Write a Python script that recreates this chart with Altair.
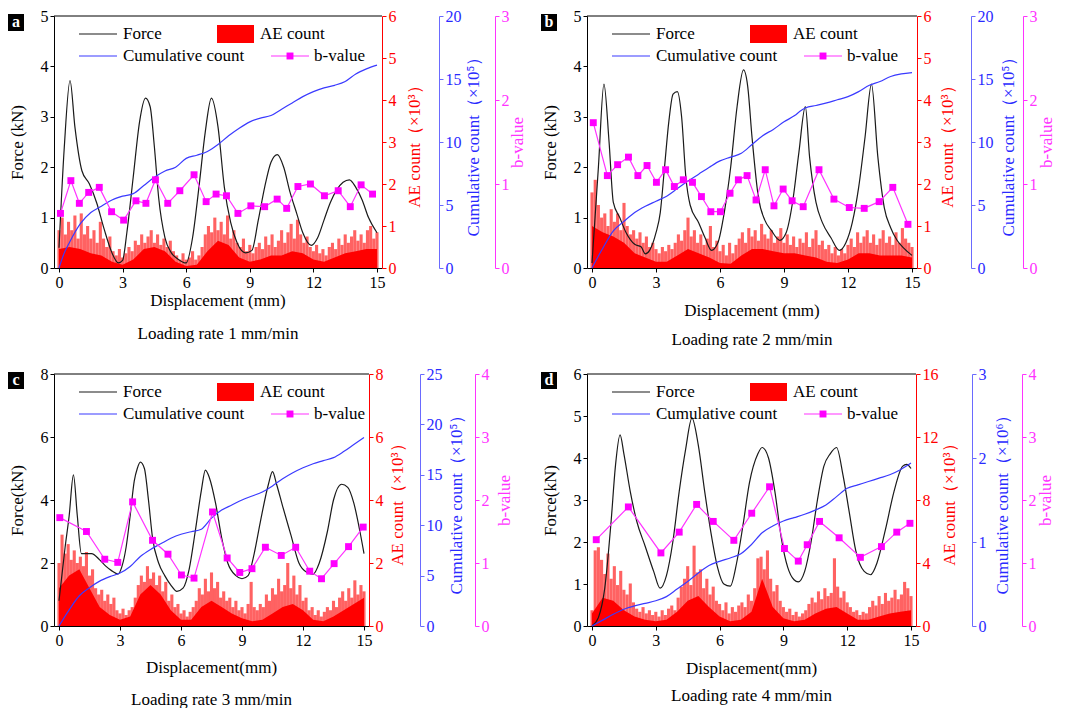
import altair as alt
import pandas as pd

FONT = "Liberation Serif"
HEIGHT = 252
RED = "#ff0000"
BLUE = "#3a3aff"
MAG = "#ff33ff"

# displacement grids (mm) for AE count bars and for the dense AE core
AE_X = [round(i * 0.15, 2) for i in range(101)]
CORE_X = [i * 0.5 for i in range(31)]

# ---------------- panel a (1 mm/min) ----------------
force_x_a = [0, 0.25, 0.52, 0.75, 1.08, 1.43, 1.78, 2.13, 2.48, 2.8,
             3.0, 3.2, 3.5, 3.8, 4.08, 4.3, 4.5, 4.7, 5.0, 5.3,
             5.6, 6.0, 6.3, 6.6, 6.9, 7.19, 7.5, 7.8, 8.1, 8.4,
             8.8, 9.1, 9.4, 9.7, 10.0, 10.3, 10.6, 10.9, 11.2, 11.5,
             11.9, 12.2, 12.5, 12.8, 13.1, 13.4, 13.7, 14.0, 14.3, 14.6, 15.0]
force_y_a = [0.4, 2.4, 3.72, 2.8, 1.93, 1.67, 1.29, 0.77, 0.32, 0.1,
             0.15, 0.7, 1.8, 2.9, 3.37, 3.2, 2.4, 1.4, 0.6, 0.3,
             0.18, 0.1, 0.6, 1.6, 2.7, 3.37, 2.8, 1.6, 0.9, 0.5,
             0.3, 0.35, 0.95, 1.6, 2.1, 2.25, 2.0, 1.5, 1.1, 0.7,
             0.45, 0.6, 0.95, 1.3, 1.55, 1.7, 1.75, 1.6, 1.35, 1.0, 0.7]
cum_x_a = [0, 0.25, 0.5, 1.0, 1.5, 2.0, 2.5, 3.0, 3.5, 4.0, 4.5, 5.0, 5.5, 6.0, 6.5, 7.0,
           7.5, 8.0, 8.5, 9.0, 9.5, 10.0, 10.5, 11.0, 11.5, 12.0, 12.5, 13.0, 13.5, 14.0, 14.5, 15.0]
cum_y_a = [0, 1.2, 2.05, 3.5, 4.4, 4.9, 5.4, 5.7, 5.9, 6.55, 7.2, 7.7, 8.0, 8.7, 8.95, 9.25,
           9.8, 10.5, 11.1, 11.6, 11.9, 12.1, 12.6, 13.1, 13.6, 14.0, 14.3, 14.5, 14.8, 15.4, 15.8, 16.1]
b_x_a = [0.07, 0.56, 0.96, 1.4, 1.9, 2.48, 3.05, 3.63, 4.1, 4.55, 5.13, 5.7, 6.37, 6.94,
         7.41, 7.9, 8.44, 9.05, 9.7, 10.29, 10.74, 11.27, 11.86, 12.52, 13.17, 13.74, 14.25, 14.79]
b_y_a = [0.65, 1.04, 0.77, 0.9, 0.96, 0.67, 0.57, 0.8, 0.77, 1.05, 0.77, 0.92, 1.11, 0.79,
         0.88, 0.86, 0.65, 0.74, 0.73, 0.82, 0.71, 0.97, 1.0, 0.86, 0.92, 0.73, 0.99, 0.88]
ae_peak_a = [0.9, 1.2, 0.8, 1.1, 0.9, 1.25, 0.7, 1.3, 0.8, 1.0,
             0.7, 0.9, 0.6, 1.1, 0.7, 0.5, 0.75, 0.4, 0.3, 0.45,
             0.25, 0.35, 0.5, 0.4, 0.65, 0.55, 0.8, 0.6, 0.75, 0.9,
             0.6, 0.8, 0.55, 0.7, 0.5, 0.65, 0.4, 0.3, 0.2, 0.35,
             0.2, 0.25, 0.4, 0.2, 0.3, 0.5, 0.8, 1.0, 0.85, 1.2,
             0.9, 1.1, 0.8, 1.25, 0.7, 0.9, 0.6, 0.5, 0.7, 0.4,
             0.55, 0.35, 0.5, 0.6, 0.45, 0.75, 0.55, 0.8, 0.5, 0.65,
             0.9, 0.6, 0.85, 1.05, 0.7, 1.15, 0.8, 0.6, 0.75, 0.5,
             0.4, 0.55, 0.35, 0.45, 0.3, 0.5, 0.6, 0.45, 0.7, 0.55,
             0.8, 0.6, 0.75, 0.9, 0.65, 0.8, 0.6, 0.9, 1.0, 0.7, 0.85]
ae_core_a = [0.45, 0.5, 0.45, 0.35, 0.3, 0.15, 0.08, 0.2, 0.45, 0.5, 0.4, 0.15, 0.05, 0.08, 0.4, 0.65,
             0.55, 0.25, 0.15, 0.2, 0.3, 0.3, 0.4, 0.35, 0.2, 0.15, 0.25, 0.35, 0.4, 0.45, 0.45]

# ---------------- panel b (2 mm/min) ----------------
force_x_b = [0, 0.3, 0.56, 0.8, 1.0, 1.3, 1.6, 2.0, 2.3, 2.5,
             2.7, 3.0, 3.2, 3.4, 3.6, 3.8, 4.0, 4.2, 4.4, 4.6,
             5.0, 5.3, 5.6, 5.9, 6.2, 6.5, 6.8, 7.1, 7.3, 7.5,
             7.8, 8.1, 8.4, 8.8, 9.1, 9.4, 9.7, 10.0, 10.2, 10.5,
             10.8, 11.2, 11.6, 11.9, 12.2, 12.5, 12.8, 13.1, 13.4, 13.7,
             14.0, 14.3, 14.6, 15.0]
force_y_b = [0.1, 2.0, 3.65, 2.5, 1.3, 1.0, 0.7, 0.47, 0.42, 0.28,
             0.35, 0.7, 1.1, 2.0, 2.9, 3.45, 3.5, 3.0, 1.8, 1.25,
             0.9, 0.6, 0.35, 0.5, 1.1, 2.0, 3.2, 3.93, 3.6, 2.6,
             1.4, 0.95, 0.75, 0.55, 0.7, 1.3, 2.3, 3.2, 2.2, 1.3,
             0.9, 0.6, 0.35, 0.5, 0.9, 1.6, 2.6, 3.65, 2.2, 1.2,
             0.8, 0.55, 0.4, 0.25]
cum_x_b = [0, 0.25, 0.5, 1.0, 1.5, 2.0, 2.5, 3.0, 3.5, 4.0, 4.5, 5.0, 5.5, 6.0, 6.5, 7.0, 7.5,
           8.0, 8.5, 9.0, 9.5, 9.8, 10.0, 10.5, 11.0, 11.5, 12.0, 12.5, 13.0, 13.5, 14.0, 14.5, 15.0]
cum_y_b = [0, 0.8, 1.55, 2.95, 3.7, 4.4, 4.9, 5.3, 5.7, 6.3, 6.9, 7.45, 8.0, 8.5, 8.8, 9.1, 9.8,
           10.5, 11.0, 11.6, 12.1, 12.5, 12.7, 12.9, 13.1, 13.35, 13.6, 14.0, 14.5, 14.8, 15.2, 15.4, 15.5]
b_x_b = [0.06, 0.72, 1.2, 1.71, 2.15, 2.58, 3.02, 3.45, 3.86, 4.28, 4.71, 5.13, 5.57, 6.02, 6.47,
         6.86, 7.27, 7.69, 8.12, 8.53, 8.96, 9.38, 9.9, 10.64, 11.34, 12.06, 12.76, 13.46, 14.1, 14.81]
b_y_b = [1.73, 1.10, 1.23, 1.32, 1.10, 1.22, 1.02, 1.17, 0.97, 1.05, 1.02, 0.85, 0.67, 0.67, 0.89,
         1.05, 1.10, 0.81, 1.17, 0.74, 0.94, 0.80, 0.73, 1.17, 0.82, 0.72, 0.71, 0.79, 0.96, 0.52]
ae_peak_b = [1.8, 2.1, 1.5, 1.2, 1.3, 1.0, 1.4, 1.1, 1.3, 0.9,
             1.55, 1.0, 0.8, 0.9, 0.7, 0.85, 0.6, 0.75, 0.5, 0.6,
             0.45, 0.35, 0.5, 0.4, 0.55, 0.45, 0.6, 0.8, 0.65, 0.9,
             1.2, 0.75, 0.9, 0.6, 0.8, 0.55, 0.7, 1.0, 0.5, 0.65,
             0.4, 0.55, 0.3, 0.6, 0.35, 0.55, 0.7, 0.85, 0.6, 0.95,
             0.75, 0.9, 0.65, 1.05, 0.8, 0.7, 0.9, 0.6, 0.75, 0.95,
             0.6, 0.8, 0.55, 0.75, 0.5, 0.7, 0.6, 0.85, 0.5, 0.7,
             0.9, 0.55, 0.65, 0.45, 0.55, 0.35, 0.5, 0.3, 0.45, 0.35,
             0.55, 0.7, 0.5, 0.85, 0.6, 0.75, 0.9, 0.6, 0.8, 0.55,
             0.7, 0.9, 0.6, 0.75, 0.55, 0.85, 0.6, 0.95, 0.7, 0.6, 0.5]
ae_core_b = [1.0, 0.85, 0.75, 0.6, 0.35, 0.25, 0.15, 0.15, 0.3, 0.45, 0.35, 0.25, 0.12, 0.1, 0.3, 0.45,
             0.45, 0.4, 0.35, 0.35, 0.3, 0.25, 0.15, 0.12, 0.2, 0.35, 0.35, 0.3, 0.3, 0.3, 0.25]

# ---------------- panel c (3 mm/min) ----------------
force_x_c = [0, 0.3, 0.5, 0.71, 0.9, 1.1, 1.6, 2.0, 2.3, 2.6,
             2.9, 3.1, 3.3, 3.5, 3.7, 3.85, 4.0, 4.2, 4.4, 4.6,
             4.9, 5.2, 5.5, 5.8, 6.1, 6.4, 6.7, 7.0, 7.2, 7.4,
             7.7, 8.0, 8.3, 8.7, 9.0, 9.3, 9.6, 9.9, 10.3, 10.5,
             10.7, 11.0, 11.4, 11.8, 12.2, 12.5, 12.8, 13.2, 13.5, 13.9,
             14.2, 14.5, 14.8, 15.0]
force_y_c = [0.8, 2.5, 3.5, 4.8, 3.5, 2.3, 2.3, 2.1, 1.9, 1.75,
             1.65, 1.9, 2.5, 3.5, 4.6, 5.0, 5.2, 5.0, 4.0, 2.8,
             2.0, 1.6, 1.3, 1.1, 1.2, 1.8, 3.0, 4.3, 4.95, 4.7,
             3.9, 2.8, 2.0, 1.6, 1.5, 1.6, 2.3, 3.3, 4.5, 4.9,
             4.5, 3.8, 2.9, 2.0, 1.7, 1.65, 2.0, 3.0, 4.0, 4.5,
             4.4, 3.9, 3.0, 2.3]
cum_x_c = [0, 0.5, 1.0, 1.5, 2.0, 2.5, 3.0, 3.5, 4.0, 4.5, 5.0, 5.5, 6.0, 6.5, 7.0, 7.5,
           8.0, 8.5, 9.0, 9.5, 10.0, 10.5, 11.0, 11.5, 12.0, 12.5, 13.0, 13.5, 14.0, 14.5, 15.0]
cum_y_c = [0, 1.6, 3.0, 3.8, 4.45, 4.9, 5.25, 5.9, 6.9, 7.6, 8.15, 8.7, 9.1, 9.35, 9.6, 10.7,
           11.5, 12.0, 12.5, 12.9, 13.3, 13.9, 14.6, 15.2, 15.7, 16.1, 16.4, 16.7, 17.3, 18.0, 18.7]
b_x_c = [0.04, 1.35, 2.25, 2.89, 3.62, 4.6, 5.36, 6.02, 6.64, 7.55, 8.27, 8.89, 9.49, 10.15,
         10.93, 11.64, 12.33, 12.91, 13.53, 14.24, 14.96]
b_y_c = [1.72, 1.50, 1.06, 1.01, 1.97, 1.36, 1.14, 0.81, 0.76, 1.81, 1.08, 0.85, 0.91, 1.25,
         1.12, 1.25, 0.87, 0.75, 0.99, 1.26, 1.57]
ae_peak_c = [2.0, 2.9, 2.3, 2.6, 2.1, 2.4, 2.0, 2.2, 1.9, 2.35,
             1.6, 1.8, 1.2, 1.0, 1.15, 0.8, 1.0, 0.7, 0.9, 0.5,
             0.4, 0.55, 0.35, 0.5, 0.6, 0.9, 1.3, 1.6, 1.4, 1.9,
             1.5, 1.7, 1.3, 1.6, 1.1, 1.4, 0.8, 1.0, 0.6, 0.7,
             0.4, 0.5, 0.3, 0.45, 0.6, 0.8, 1.2, 1.0, 1.5, 1.1,
             1.7, 1.2, 1.4, 0.9, 1.1, 0.8, 0.9, 0.6, 0.8, 0.5,
             0.6, 0.4, 0.7, 1.4, 0.6, 0.5, 0.7, 0.6, 1.0, 0.8,
             1.2, 1.0, 1.5, 1.1, 1.3, 2.0, 1.2, 1.6, 1.0, 1.3,
             0.8, 0.9, 0.5, 0.6, 0.35, 0.5, 0.3, 0.45, 0.6, 0.5,
             0.8, 0.6, 0.9, 1.1, 0.8, 1.2, 0.9, 1.45, 1.0, 1.3, 1.1]
ae_core_c = [1.2, 1.6, 1.8, 1.2, 0.6, 0.35, 0.2, 0.3, 1.0, 1.3, 1.0, 0.5, 0.2, 0.2, 0.6, 0.8,
             0.6, 0.4, 0.25, 0.15, 0.2, 0.4, 0.6, 0.7, 0.5, 0.2, 0.15, 0.3, 0.5, 0.7, 0.9]

# ---------------- panel d (4 mm/min) ----------------
force_x_d = [0, 0.3, 0.6, 0.9, 1.1, 1.32, 1.5, 1.8, 2.1, 2.5,
             2.9, 3.2, 3.5, 3.8, 4.1, 4.4, 4.7, 5.0, 5.3, 5.6,
             5.9, 6.2, 6.5, 6.8, 7.1, 7.4, 7.8, 8.0, 8.3, 8.6,
             8.9, 9.2, 9.5, 9.7, 10.0, 10.3, 10.6, 10.9, 11.2, 11.5,
             11.8, 12.1, 12.4, 12.8, 13.1, 13.4, 13.8, 14.2, 14.6, 14.8, 15.0]
force_y_d = [0.0, 0.2, 0.9, 2.5, 3.8, 4.55, 4.1, 3.2, 2.5, 1.9,
             1.3, 0.9, 1.2, 2.0, 3.2, 4.2, 4.95, 4.3, 3.2, 2.2,
             1.4, 1.0, 0.95, 1.5, 2.4, 3.4, 4.1, 4.25, 4.0, 3.2,
             2.1, 1.4, 1.1, 1.05, 1.3, 2.0, 3.0, 3.8, 4.1, 4.25,
             3.6, 2.7, 1.8, 1.3, 1.22, 1.5, 2.3, 3.2, 3.8, 3.85, 3.75]
cum_x_d = [0, 0.5, 1.0, 1.5, 2.0, 2.5, 3.0, 3.5, 4.0, 4.5, 5.0, 5.5, 6.0, 6.5, 7.0, 7.5,
           8.0, 8.5, 9.0, 9.5, 10.0, 10.5, 11.0, 11.5, 12.0, 12.5, 13.0, 13.5, 14.0, 14.5, 15.0]
cum_y_d = [0, 0.07, 0.14, 0.2, 0.24, 0.27, 0.30, 0.35, 0.44, 0.53, 0.63, 0.72, 0.77, 0.81, 0.86, 0.97,
           1.11, 1.19, 1.25, 1.29, 1.33, 1.38, 1.44, 1.54, 1.64, 1.68, 1.72, 1.76, 1.80, 1.86, 1.94]
b_x_d = [0.2, 1.71, 3.24, 4.1, 4.92, 5.7, 6.67, 7.51, 8.35, 9.05, 9.7, 10.12, 10.7, 11.62,
         12.62, 13.61, 14.33, 14.95]
b_y_d = [1.37, 1.89, 1.16, 1.49, 1.93, 1.66, 1.36, 1.79, 2.21, 1.23, 1.03, 1.29, 1.66, 1.40,
         1.09, 1.26, 1.49, 1.63]
ae_peak_d = [1.0, 4.8, 5.0, 4.2, 3.3, 4.6, 3.0, 3.8, 2.6, 3.5,
             2.3, 2.0, 2.7, 1.5, 1.1, 0.9, 1.2, 0.8, 1.0, 0.7,
             0.9, 0.6, 1.0, 0.7, 1.1, 1.3, 1.0, 1.8, 2.5, 3.0,
             3.8, 2.6, 5.1, 3.4, 3.6, 2.4, 3.0, 2.0, 2.5, 1.6,
             1.4, 1.0, 1.5, 0.8, 1.2, 0.9, 1.3, 1.5, 1.2, 2.0,
             1.6, 2.4, 4.3, 4.4, 3.6, 4.8, 3.0, 2.2, 2.6, 1.6,
             1.2, 0.9, 1.1, 0.7, 0.9, 0.6, 0.8, 1.0, 1.4, 1.8,
             1.5, 2.2, 1.7, 2.4, 1.9, 2.1, 4.3, 2.5, 1.8, 2.2,
             1.5, 1.2, 0.9, 1.0, 0.7, 0.9, 0.8, 1.2, 1.6, 1.3,
             1.9, 1.4, 2.1, 1.6, 1.8, 2.3, 1.7, 2.0, 2.8, 2.4, 1.9]
ae_core_d = [0.8, 1.8, 1.6, 1.0, 0.6, 0.4, 0.3, 0.4, 0.9, 1.6, 1.9, 1.2, 0.6, 0.3, 0.4, 0.9,
             3.0, 1.2, 0.5, 0.3, 0.4, 0.8, 1.1, 1.2, 0.8, 0.4, 0.4, 0.6, 0.8, 0.9, 1.0]

PANELS = [
    dict(tag="a", w=328,
         fx=force_x_a, fy=force_y_a, cx=cum_x_a, cy=cum_y_a, bx=b_x_a, by=b_y_a,
         ae=ae_peak_a, core=ae_core_a,
         fmax=5, fticks=[0, 1, 2, 3, 4, 5], ftitle="Force (kN)",
         aemax=6, aeticks=[0, 1, 2, 3, 4, 5, 6], aetitle="AE count（×10³）",
         cmax=20, cticks=[0, 5, 10, 15, 20], ctitle="Cumulative count（×10⁵）",
         bmax=3, bticks=[0, 1, 2, 3],
         off1=57, off2=113, tpad=(14, 10, 4, 0),
         xtitle="Displacement (mm)", caption="Loading rate 1 mm/min", cap_y=(33, 66)),
    dict(tag="b", w=330,
         fx=force_x_b, fy=force_y_b, cx=cum_x_b, cy=cum_y_b, bx=b_x_b, by=b_y_b,
         ae=ae_peak_b, core=ae_core_b,
         fmax=5, fticks=[0, 1, 2, 3, 4, 5], ftitle="Force (kN)",
         aemax=6, aeticks=[0, 1, 2, 3, 4, 5, 6], aetitle="AE count（×10³）",
         cmax=20, cticks=[0, 5, 10, 15, 20], ctitle="Cumulative count（×10⁵）",
         bmax=3, bticks=[0, 1, 2, 3],
         off1=54, off2=106, tpad=(14, 8, 7, 1),
         xtitle="Displacement (mm)", caption="Loading rate 2 mm/min", cap_y=(43, 72)),
    dict(tag="c", w=315,
         fx=force_x_c, fy=force_y_c, cx=cum_x_c, cy=cum_y_c, bx=b_x_c, by=b_y_c,
         ae=ae_peak_c, core=ae_core_c,
         fmax=8, fticks=[0, 2, 4, 6, 8], ftitle="Force(kN)",
         aemax=8, aeticks=[0, 2, 4, 6, 8], aetitle="AE count（×10³）",
         cmax=25, cticks=[0, 5, 10, 15, 20, 25], ctitle="Cumulative count（×10⁵）",
         bmax=4, bticks=[0, 1, 2, 3, 4],
         off1=51, off2=106, tpad=(14, 6, 6, 7),
         xtitle="Displacement(mm)", caption="Loading rate 3 mm/min", cap_y=(42, 74)),
    dict(tag="d", w=329,
         fx=force_x_d, fy=force_y_d, cx=cum_x_d, cy=cum_y_d, bx=b_x_d, by=b_y_d,
         ae=ae_peak_d, core=ae_core_d,
         fmax=6, fticks=[0, 1, 2, 3, 4, 5, 6], ftitle="Force(kN)",
         aemax=16, aeticks=[0, 4, 8, 12, 16], aetitle="AE count（×10³）",
         cmax=3, cticks=[0, 1, 2, 3], ctitle="Cumulative count（×10⁶）",
         bmax=4, bticks=[0, 1, 2, 3, 4],
         off1=56, off2=106, tpad=(14, 3, 8, 1),
         xtitle="Displacement(mm)", caption="Loading rate 4 mm/min", cap_y=(43, 70)),
]

ONE = pd.DataFrame({"k": [0]})


def txt(s, x, y, size=17, color="black", align="left", weight="normal"):
    return alt.Chart(ONE).mark_text(text=s, font=FONT, fontSize=size, color=color,
                                    align=align, baseline="middle", fontWeight=weight).encode(
        x=alt.value(x), y=alt.value(y))


def hline(x1, x2, y, color, sw=1.2):
    return alt.Chart(ONE).mark_rule(color=color, strokeWidth=sw).encode(
        x=alt.value(x1), x2=alt.value(x2), y=alt.value(y))


def right_axis(values, title, tcolor, lcolor, dcolor, pad, offset=0):
    return alt.Axis(orient="right", offset=offset, values=values, title=title,
                    titleAngle=270, titleBaseline="top", titleColor=tcolor,
                    labelColor=lcolor, domainColor=dcolor, tickColor=dcolor,
                    titlePadding=pad)


def make_panel(p):
    W, H = p["w"], HEIGHT
    xs = alt.Scale(domain=[0, 15], nice=False, zero=False)
    xaxis = alt.Axis(values=[0, 3, 6, 9, 12, 15], title=None, labelColor="black",
                     domainColor="black", tickColor="black")
    X = alt.X("d:Q", scale=xs, axis=xaxis)

    ae_df = pd.DataFrame({"d": AE_X, "v": p["ae"]})
    core_df = pd.DataFrame({"d": CORE_X, "v": p["core"]})
    f_df = pd.DataFrame({"d": p["fx"], "v": p["fy"]})
    c_df = pd.DataFrame({"d": p["cx"], "v": p["cy"]})
    b_df = pd.DataFrame({"d": p["bx"], "v": p["by"]})
    pf, pae, pc, pb = p["tpad"]

    ae_scale = alt.Scale(domain=[0, p["aemax"]], nice=False)
    peaks = alt.Chart(ae_df).mark_bar(size=3.1, color="#ff2626", opacity=0.72, clip=True).encode(
        x=X,
        y=alt.Y("v:Q", scale=ae_scale,
                axis=right_axis(p["aeticks"], p["aetitle"], RED, RED, RED, pae)))
    core = alt.Chart(core_df).mark_area(color=RED, clip=True, opacity=1).encode(
        x=X, y=alt.Y("v:Q", scale=ae_scale, axis=None))
    force = alt.Chart(f_df).mark_line(color="#1a1a1a", strokeWidth=1.2, interpolate="monotone").encode(
        x=X,
        y=alt.Y("v:Q", scale=alt.Scale(domain=[0, p["fmax"]], nice=False),
                axis=alt.Axis(orient="left", values=p["fticks"], title=p["ftitle"],
                              titleColor="black", labelColor="black", domainColor="black",
                              tickColor="black", titlePadding=pf)))
    cum = alt.Chart(c_df).mark_line(color=BLUE, strokeWidth=1.2, interpolate="monotone").encode(
        x=X,
        y=alt.Y("v:Q", scale=alt.Scale(domain=[0, p["cmax"]], nice=False),
                axis=right_axis(p["cticks"], p["ctitle"], "#2a2aff", "#2a2aff", "#6a6aff",
                                pc, p["off1"])))
    bval = alt.Chart(b_df).mark_line(
        color=MAG, strokeWidth=1.2,
        point=alt.OverlayMarkDef(shape="square", size=48, filled=True, color="#ff00ff", opacity=1)
    ).encode(
        x=X,
        y=alt.Y("v:Q", scale=alt.Scale(domain=[0, p["bmax"]], nice=False),
                axis=right_axis(p["bticks"], "b-value", MAG, MAG, MAG, pb, p["off2"])))

    top = hline(0, W, 0, "black", 1)
    leg = [
        hline(25, 63, 18, "#1a1a1a"), txt("Force", 69, 18),
        alt.Chart(ONE).mark_rect(color=RED).encode(
            x=alt.value(163), x2=alt.value(200), y=alt.value(9), y2=alt.value(27)),
        txt("AE count", 206, 18),
        hline(25, 63, 40, BLUE), txt("Cumulative count", 69, 40),
        hline(217, 255, 40, MAG),
        alt.Chart(ONE).mark_point(shape="square", size=48, filled=True, color="#ff00ff", opacity=1).encode(
            x=alt.value(236), y=alt.value(40)),
        txt("b-value", 260, 40),
    ]
    badge = [
        alt.Chart(ONE).mark_rect(color="black").encode(
            x=alt.value(-46), x2=alt.value(-30), y=alt.value(-2), y2=alt.value(15)),
        txt(p["tag"], -38, 6, size=16, color="white", align="center", weight="bold"),
    ]
    caps = [
        txt(p["xtitle"], W / 2, H + p["cap_y"][0], align="center"),
        txt(p["caption"], W / 2, H + p["cap_y"][1], align="center"),
    ]
    layers = [peaks, core, force, cum, bval, top] + leg + badge + caps
    return alt.layer(*layers).resolve_scale(y="independent").properties(width=W, height=HEIGHT)


charts = [make_panel(p) for p in PANELS]

chart = alt.concat(*charts, columns=2, spacing={"row": 106, "column": 205}, bounds="flush").properties(
    padding=0
).configure_view(stroke=None).configure_axis(
    labelFont=FONT, titleFont=FONT, labelFontSize=16, titleFontSize=17,
    titleFontWeight="normal", grid=False, tickSize=4, labelPadding=2,
    labelFlush=False, labelOverlap=False, domainWidth=1, tickWidth=1
)

chart.save("out.html", embed_options={"renderer": "svg", "actions": False})
